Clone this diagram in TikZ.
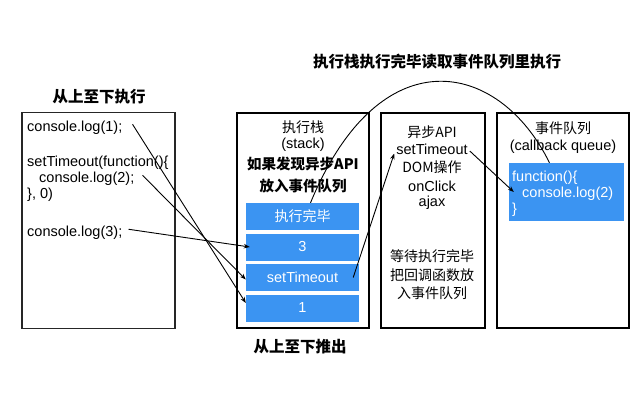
\documentclass[tikz,border=0pt]{standalone}
\usepackage{fontspec}
\setmainfont{Liberation Sans}
\newfontfamily\cjk{Noto Sans CJK SC}
\usetikzlibrary{arrows.meta}
\definecolor{bluebox}{RGB}{59,148,242}
\tikzset{
  titletext/.style={font=\cjk\bfseries\fontsize{15.5}{18}\selectfont, inner sep=0pt},
  frame/.style={draw=black, line width=1.2pt, fill=white, inner sep=0pt},
  codeframe/.style={draw=black!85, line width=1.8pt, fill=white, inner sep=0pt},
  codeline/.style={font=\fontsize{14.5}{16}\selectfont, inner sep=0pt, anchor=base west},
  label/.style={font=\fontsize{14.5}{18}\selectfont, inner sep=0pt},
  cjklabel/.style={font=\cjk\fontsize{14}{18}\selectfont, inner sep=0pt},
  cjkbold/.style={font=\cjk\bfseries\fontsize{14.5}{18}\selectfont, inner sep=0pt},
  stackitem/.style={fill=bluebox, text=white, minimum width=113pt, minimum height=27pt, inner sep=0pt, font=\fontsize{14.5}{18}\selectfont},
  conn/.style={draw=black, line width=0.9pt, -{Stealth[length=6pt,width=4.5pt]}},
  arcline/.style={draw=black, line width=0.9pt}
}
\begin{document}
\begin{tikzpicture}[x=1pt,y=-1pt]
\useasboundingbox (0,0) rectangle (640,400);
% titles
\node[titletext] (t1) at (99,97) {从上至下执行};
\node[titletext] (t2) at (437,62) {执行栈执行完毕读取事件队列里执行};
\node[titletext] (t3) at (300,347) {从上至下推出};
% frames
\node[codeframe, minimum width=153pt, minimum height=216pt] (code) at (98.5,220.5) {};
\node[frame, minimum width=132pt, minimum height=215pt] (stack) at (303,220.5) {};
\node[frame, minimum width=104pt, minimum height=215pt] (async) at (433,220.5) {};
\node[frame, minimum width=132pt, minimum height=215pt] (queue) at (563,220.5) {};
% code lines
\node[codeline] (c1) at (27,131) {console.log(1);};
\node[codeline] (c2a) at (27,166) {setTimeout(function()\{};
\node[codeline] (c2) at (39,182) {console.log(2);};
\node[codeline] (c2c) at (27,198) {\}, 0)};
\node[codeline] (c3) at (27,236) {console.log(3);};
% stack
\node[cjklabel] (s1) at (303,127) {执行栈};
\node[label] (s2) at (303,145) {(stack)};
\node[cjkbold] (s3) at (303,164) {如果发现异步API};
\node[cjkbold] (s4) at (303,186) {放入事件队列};
\node[stackitem, font=\cjk\fontsize{14}{18}\selectfont] (done) at (302.5,216.5) {执行完毕};
\node[stackitem] (three) at (302.5,247) {3};
\node[stackitem] (st) at (302.5,277.5) {setTimeout};
\node[stackitem] (one) at (302.5,308) {1};
% async
\node[cjklabel] (a1) at (432,132) {异步API};
\node[label] (a2) at (432,149) {setTimeout};
\node[cjklabel] (a3) at (432,167) {DOM操作};
\node[label] (a4) at (432,186) {onClick};
\node[label] (a5) at (432,203) {ajax};
\node[cjklabel] (a6) at (432,256) {等待执行完毕};
\node[cjklabel] (a7) at (432,275) {把回调函数放};
\node[cjklabel] (a8) at (432,293) {入事件队列};
% queue
\node[cjklabel] (q1) at (563,128) {事件队列};
\node[label] (q2) at (563,147) {(callback queue)};
\node[fill=bluebox, minimum width=115pt, minimum height=58pt, inner sep=0pt] (qb) at (566.5,192) {};
\node[codeline, text=white] (qt1) at (512,181) {function()\{};
\node[codeline, text=white] (qt2) at (522,197) {console.log(2)};
\node[codeline, text=white] (qt3) at (512,213) {\}};
% connectors
\draw[conn] ([xshift=10pt,yshift=3pt]c1.east) -- ([yshift=5pt]one.west);
\draw[conn] ([xshift=8pt,yshift=3pt]c2.east) -- ([yshift=-2pt]st.west);
\draw[conn] ([xshift=6pt,yshift=3pt]c3.east) -- ([xshift=4pt]three.west);
\draw[conn] ([xshift=-6pt]st.east) -- ([xshift=-2pt,yshift=1pt]a2.south west);
\draw[conn] ([xshift=2pt,yshift=-2pt]a2.east) -- ([xshift=5pt]qb.west);
\draw[arcline] ([xshift=8pt]done.north) .. controls (380,35) and (499,60) .. ([xshift=-17pt]qb.north);
\end{tikzpicture}
\end{document}
